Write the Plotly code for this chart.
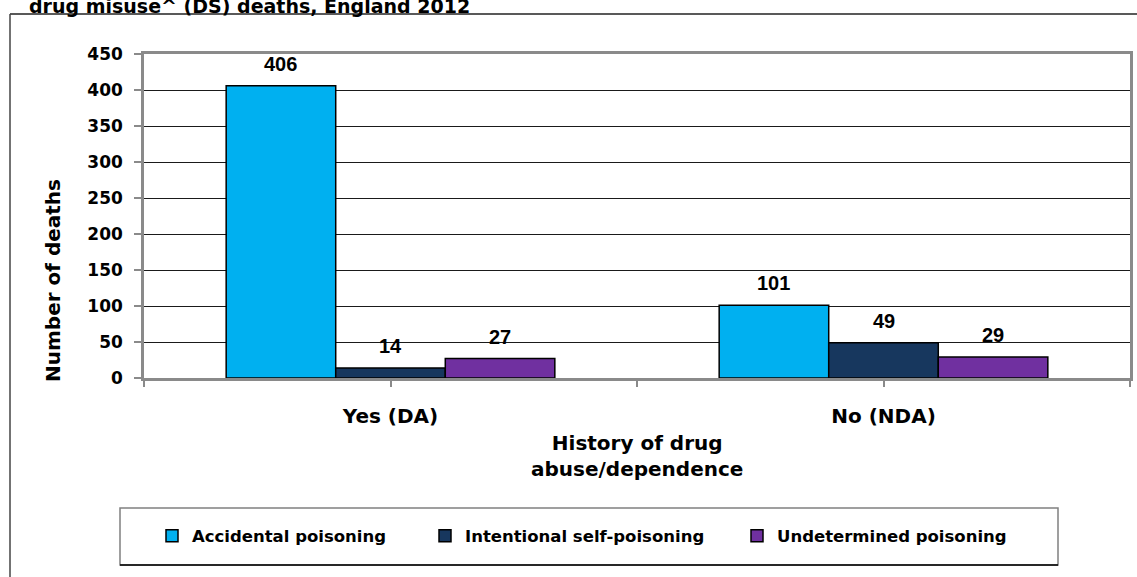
import plotly.graph_objects as go

# Deaths by history of drug abuse/dependence and manner of death
categories = ["Yes (DA)", "No (NDA)"]
series_names = ["Accidental poisoning", "Intentional self-poisoning", "Undetermined poisoning"]
accidental = [406, 101]
intentional = [14, 49]
undetermined = [27, 29]
series_values = [accidental, intentional, undetermined]
series_colors = ["#00B0F0", "#17375E", "#7030A0"]

y_ticks = [0, 50, 100, 150, 200, 250, 300, 350, 400, 450]

W, H = 1137, 577
L, R, T, B = 144, 1130, 54, 378
BARGAP = 1 / 3


def fx(p):
    return (p - L) / (R - L)


def fy(p):
    return (B - p) / (B - T)


BOLD = "DejaVu Sans"
GRAY = "#8a8a8a"

fig = go.Figure()
x_idx = list(range(len(categories)))
for k, (name, vals, col) in enumerate(zip(series_names, series_values, series_colors)):
    fig.add_trace(go.Bar(
        x=x_idx, y=vals, name=name,
        marker=dict(color=col, line=dict(color="black", width=1.5)),
        legend=["legend", "legend2", "legend3"][k],
        hoverinfo="skip",
    ))

# value labels above each bar
n = len(series_names)
bw = (1 - BARGAP) / n
annotations = []
for k, vals in enumerate(series_values):
    for i, v in enumerate(vals):
        annotations.append(dict(
            x=i + (k - (n - 1) / 2) * bw, y=v, xref="x", yref="y",
            text=f"<b>{v}</b>", showarrow=False, yanchor="middle", yshift=22,
            font=dict(family="Liberation Sans", size=20, color="black"),
        ))

# chart title (runs off the top edge)
annotations.append(dict(
    x=fx(27), y=fy(6), xref="paper", yref="paper", xanchor="left", yanchor="middle",
    text="<b>drug misuse^ (DS) deaths, England 2012</b>", showarrow=False,
    font=dict(family=BOLD, size=19, color="black"),
))
# y-axis title
annotations.append(dict(
    x=fx(53), y=fy(281), xref="paper", yref="paper", xanchor="center", yanchor="middle",
    text="<b>Number of deaths</b>", textangle=-90, showarrow=False,
    font=dict(family=BOLD, size=20, color="black"),
))
# x-axis title
annotations.append(dict(
    x=0.5, y=fy(456), xref="paper", yref="paper", xanchor="center", yanchor="middle",
    text="<b>History of drug<br>abuse/dependence</b>", showarrow=False,
    font=dict(family=BOLD, size=20, color="black"),
))

shapes = [
    # outer chart frame (top and left edges)
    dict(type="line", xref="paper", yref="paper", x0=fx(10), x1=fx(W), y0=fy(14), y1=fy(14),
         line=dict(color="#222222", width=1.5)),
    dict(type="line", xref="paper", yref="paper", x0=fx(10), x1=fx(10), y0=fy(14), y1=fy(H),
         line=dict(color="#444444", width=1.5)),
    # legend box
    dict(type="rect", xref="paper", yref="paper", x0=fx(120), x1=fx(1058), y0=fy(508), y1=fy(565),
         line=dict(color="#808080", width=1.5), fillcolor="rgba(0,0,0,0)"),
    dict(type="line", xref="paper", yref="paper", x0=fx(120), x1=fx(1058), y0=fy(565), y1=fy(565),
         line=dict(color="black", width=1.5)),
]

legend_style = dict(
    orientation="h", xanchor="left", yanchor="middle", y=fy(536),
    bgcolor="rgba(0,0,0,0)", borderwidth=0,
    font=dict(family=BOLD, size=16.5, color="black", weight="bold"),
)
text_starts = [192, 465, 777]

fig.update_layout(
    width=W, height=H,
    margin=dict(l=L, r=W - R, t=T, b=H - B, autoexpand=False),
    paper_bgcolor="white", plot_bgcolor="white",
    barmode="group", bargap=BARGAP, bargroupgap=0,
    showlegend=True,
    legend=dict(legend_style, x=fx(text_starts[0] - 40)),
    legend2=dict(legend_style, x=fx(text_starts[1] - 40)),
    legend3=dict(legend_style, x=fx(text_starts[2] - 40)),
    xaxis=dict(
        range=[-0.5, len(categories) - 0.5],
        tickvals=[-0.5, 0, 0.5, 1, 1.5], ticktext=["", categories[0], "", categories[1], ""],
        ticks="outside", ticklen=6, tickwidth=2, tickcolor=GRAY,
        showline=True, linecolor=GRAY, linewidth=2.5, mirror=True,
        showgrid=False, zeroline=False, ticklabelstandoff=12,
        tickfont=dict(family=BOLD, size=20, color="black", weight="bold"),
    ),
    yaxis=dict(
        range=[0, 450], tickvals=y_ticks,
        ticks="outside", ticklen=7, tickwidth=2, tickcolor=GRAY,
        showline=True, linecolor=GRAY, linewidth=2.5, mirror=True,
        showgrid=True, gridcolor="#1a1a1a", gridwidth=1.2, zeroline=False,
        ticklabelstandoff=8,
        tickfont=dict(family=BOLD, size=17, color="black", weight="bold"),
    ),
    annotations=annotations,
    shapes=shapes,
)

fig.write_html("out.html")
